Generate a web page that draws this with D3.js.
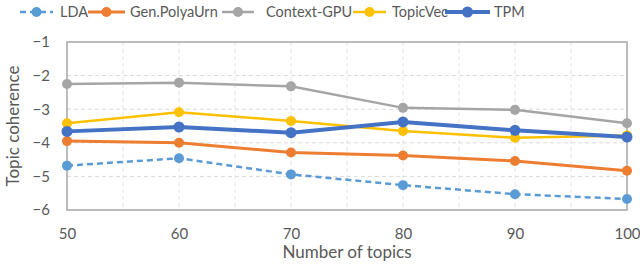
<!DOCTYPE html>
<meta charset="utf-8">
<head>
<script src="https://d3js.org/d3.v7.min.js"></script>
<style>
  body { margin: 0; background: #fff; }
  text { font-family: Lato, "Open Sans", sans-serif; fill: #595959; }
</style>
</head>
<body>
<div id="chart"></div>
<script>
// data
var topics = [50, 60, 70, 80, 90, 100];
var seriesNames = ["LDA", "Gen.PolyaUrn", "Context-GPU", "TopicVec", "TPM"];
var lda = [-4.68, -4.46, -4.94, -5.26, -5.53, -5.67];
var polya = [-3.95, -4.00, -4.29, -4.38, -4.54, -4.83];
var contextGpu = [-2.25, -2.21, -2.32, -2.96, -3.02, -3.42];
var topicVec = [-3.42, -3.09, -3.35, -3.65, -3.85, -3.78];
var tpm = [-3.66, -3.53, -3.70, -3.38, -3.63, -3.83];
var yTicks = [-1, -2, -3, -4, -5, -6];

var series = [
  {name: "LDA", values: lda, color: "#5B9BD5", dash: "6,4", w: 2.5, r: 5},
  {name: "Gen.PolyaUrn", values: polya, color: "#ED7D31", dash: null, w: 3, r: 5},
  {name: "Context-GPU", values: contextGpu, color: "#A5A5A5", dash: null, w: 2.5, r: 5},
  {name: "TopicVec", values: topicVec, color: "#FFC000", dash: null, w: 2.5, r: 5},
  {name: "TPM", values: tpm, color: "#4472C4", dash: null, w: 4, r: 5.5}
];

var margin = {top: 42, right: 13, bottom: 57, left: 67},
    width = 640 - margin.left - margin.right,
    height = 267 - margin.top - margin.bottom;

var svg = d3.select("#chart")
  .append("svg")
    .attr("width", 640)
    .attr("height", 267)
  .append("g")
    .attr("transform", "translate(" + margin.left + "," + margin.top + ")");

var x = d3.scaleLinear().domain([50, 100]).range([0, width]);
var y = d3.scaleLinear().domain([-6, -1]).range([height, 0]);

// gridlines
svg.append("g").selectAll("line")
  .data(d3.range(55, 100, 5))
  .enter().append("line")
    .attr("x1", function(d) { return x(d); })
    .attr("x2", function(d) { return x(d); })
    .attr("y1", 0).attr("y2", height)
    .attr("stroke", "#E4E4E4").attr("stroke-dasharray", "4,3");
svg.append("g").selectAll("line")
  .data([-2, -3, -4, -5])
  .enter().append("line")
    .attr("x1", 0).attr("x2", width)
    .attr("y1", function(d) { return y(d); })
    .attr("y2", function(d) { return y(d); })
    .attr("stroke", "#D9D9D9").attr("stroke-dasharray", "4,3");

// box
svg.append("rect")
  .attr("width", width).attr("height", height)
  .attr("fill", "none").attr("stroke", "#A6A6A6").attr("stroke-width", 1.5);

// axes
var xAxis = svg.append("g")
  .attr("transform", "translate(0," + height + ")")
  .call(d3.axisBottom(x).tickValues(topics).tickSize(0).tickPadding(18));
xAxis.select(".domain").remove();
xAxis.selectAll("text").style("font-size", "15px").attr("fill", "#595959");

var yAxis = svg.append("g")
  .call(d3.axisLeft(y).tickValues(yTicks).tickFormat(d3.format("d")).tickSize(0).tickPadding(17));
yAxis.select(".domain").remove();
yAxis.selectAll("text").style("font-size", "15px").attr("fill", "#595959");

svg.append("text")
  .attr("x", width / 2).attr("y", height + 48)
  .attr("text-anchor", "middle")
  .style("font-size", "17px")
  .text("Number of topics");

svg.append("text")
  .attr("transform", "rotate(-90)")
  .attr("x", -height / 2).attr("y", -48)
  .attr("text-anchor", "middle")
  .style("font-size", "17px")
  .text("Topic coherence");

// lines
var line = d3.line()
  .x(function(d, i) { return x(topics[i]); })
  .y(function(d) { return y(d); });

series.forEach(function(s) {
  svg.append("path")
    .datum(s.values)
    .attr("d", line)
    .attr("fill", "none")
    .attr("stroke", s.color)
    .attr("stroke-width", s.w)
    .attr("stroke-dasharray", s.dash);
  svg.selectAll(null)
    .data(s.values)
    .enter().append("circle")
      .attr("cx", function(d, i) { return x(topics[i]); })
      .attr("cy", function(d) { return y(d); })
      .attr("r", s.r)
      .attr("fill", s.color);
});

// legend
var legendPos = [
  {x1: 20, x2: 53, tx: 60},
  {x1: 88, x2: 125, tx: 130},
  {x1: 222, x2: 254, tx: 266},
  {x1: 353, x2: 386, tx: 392},
  {x1: 445, x2: 490, tx: 494}
];
var legend = d3.select("svg").append("g");
series.forEach(function(s, i) {
  var p = legendPos[i];
  legend.append("line")
    .attr("x1", p.x1).attr("x2", p.x2)
    .attr("y1", 12).attr("y2", 12)
    .attr("stroke", s.color).attr("stroke-width", s.w)
    .attr("stroke-dasharray", s.dash);
  legend.append("circle")
    .attr("cx", (p.x1 + p.x2) / 2).attr("cy", 12)
    .attr("r", s.r).attr("fill", s.color);
  legend.append("text")
    .attr("x", p.tx).attr("y", 12).attr("dy", "0.35em")
    .style("font-size", "14.5px")
    .text(seriesNames[i]);
});
</script>
</body>
